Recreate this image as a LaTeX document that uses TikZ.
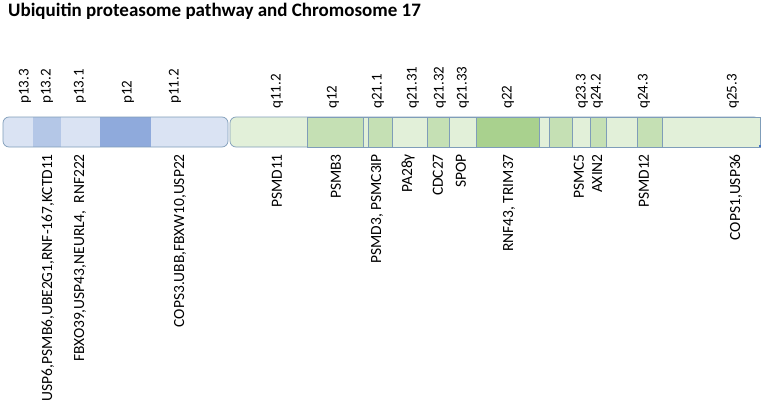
\documentclass[tikz,border=0pt]{standalone}
\usepackage{fontspec}
\setmainfont{Carlito}
\usetikzlibrary{positioning}
\definecolor{pLight}{HTML}{DAE3F3}
\definecolor{pMid}{HTML}{B4C7E7}
\definecolor{pDark}{HTML}{8FAADC}
\definecolor{qLight}{HTML}{E2F0D9}
\definecolor{qMid}{HTML}{C5E0B4}
\definecolor{qDark}{HTML}{A9D18E}
\definecolor{bandLine}{HTML}{7F9DB9}
\definecolor{handle}{HTML}{4472C4}

\begin{document}
\begin{tikzpicture}[x=1pt, y=-1pt,
  band/.style={draw=bandLine, line width=0.7pt},
  armlab/.style={rotate=90, anchor=west, inner sep=0pt, font=\fontsize{15}{15}\selectfont},
  genelab/.style={rotate=90, anchor=east, inner sep=0pt, font=\fontsize{15.5}{16}\selectfont}]
  \useasboundingbox (0,0) rectangle (761,412);

  % title
  \node[anchor=base west, inner sep=0pt, font=\bfseries\fontsize{19}{20}\selectfont]
    (title) at (8,17) {Ubiquitin proteasome pathway and Chromosome 17};

  % p arm
  \fill[pLight, rounded corners=6pt] (3,117) rectangle (228,147);
  \fill[pMid] (33,117) rectangle (61,147);
  \fill[pDark] (100,117) rectangle (151,147);
  \draw[band, rounded corners=6pt] (3,117) rectangle (228,147);

  % q arm
  \draw[band, fill=qLight, rounded corners=6pt] (230,117) rectangle (760,147);
  \foreach \a/\b/\c in {307/363/qMid, 363/368/qLight, 368/392/qMid, 392/427/qLight,
      427/449/qMid, 449/476/qLight, 476/539/qDark, 539/549/qLight, 549/572/qMid,
      572/590/qLight, 590/606/qMid, 606/637/qLight, 637/662/qMid, 662/760/qLight}
    \draw[band, fill=\c] (\a,117) rectangle (\b,147);
  \fill[handle] (758.5,144.5) rectangle (761,147);

  % band names
  \foreach \x/\t [count=\i] in {25/p13.3, 47/p13.2, 80/p13.1, 128/p12, 175/p11.2}
    \node[armlab] (p\i) at (\x,104) {\t};
  \foreach \x/\t [count=\i] in {277/q11.2, 333/q12, 378/q21.1, 413/q21.31, 440/q21.32,
      463/q21.33, 508/q22, 582/q23.3, 597/q24.2, 644/q24.3, 733/q25.3}
    \node[armlab] (q\i) at (\x,109) {\t};

  % genes
  \foreach \x/\t [count=\i] in {48/{USP6,PSMB6,UBE2G1,RNF-167,KCTD11},
      80/{FBXO39,USP43,NEURL4,~ RNF222}, 180/{COPS3.UBB,FBXW10,USP22},
      277/PSMD11, 336/PSMB3, 377/{PSMD3, PSMC3IP}, 408/PA28γ, 438/CDC27,
      461/SPOP, 509/{RNF43, TRIM37}, 579/PSMC5, 597/AXIN2, 644/PSMD12,
      736/{COPS1,USP36}}
    \node[genelab] (g\i) at (\x,154) {\t};
\end{tikzpicture}
\end{document}
